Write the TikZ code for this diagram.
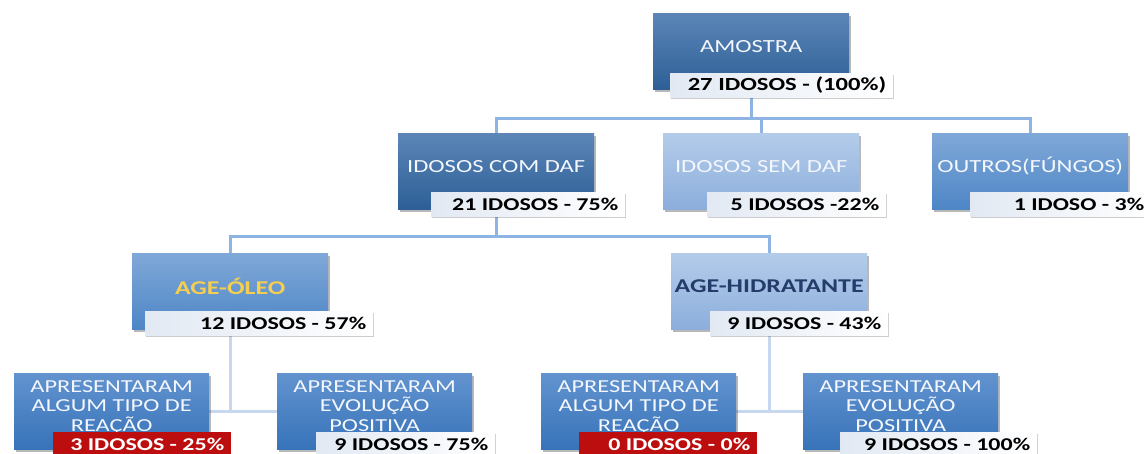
\documentclass[tikz,border=0pt]{standalone}
\usepackage{fontspec}
\setmainfont{Carlito}[FakeStretch=1.33]
\usetikzlibrary{shadows,backgrounds}
\definecolor{darkT}{RGB}{92,134,184}
\definecolor{darkB}{RGB}{45,95,150}
\definecolor{medT}{RGB}{128,168,216}
\definecolor{medB}{RGB}{78,134,198}
\definecolor{ligT}{RGB}{180,204,234}
\definecolor{ligB}{RGB}{140,174,220}
\definecolor{botT}{RGB}{98,147,207}
\definecolor{botB}{RGB}{55,115,185}
\definecolor{redL}{RGB}{188,14,14}
\definecolor{labB}{RGB}{226,233,243}
\definecolor{lineA}{RGB}{141,180,226}
\definecolor{lineB}{RGB}{198,215,238}
\definecolor{yel}{RGB}{246,206,80}
\definecolor{navy}{RGB}{35,60,105}
\definecolor{offw}{RGB}{244,247,252}
\begin{document}
\begin{tikzpicture}[x=1pt,y=-1pt,
  box/.style={rectangle, anchor=north west, minimum width=196pt, minimum height=76pt, inner sep=0pt,
    drop shadow={shadow xshift=2pt, shadow yshift=-3pt, opacity=0.35, fill=black!80}},
  dark/.style={top color=darkT, bottom color=darkB},
  med/.style={top color=medT, bottom color=medB},
  lig/.style={top color=ligT, bottom color=ligB},
  bot/.style={top color=botT, bottom color=botB},
  btext/.style={inner sep=0pt, text=offw, font=\fontsize{18.5}{21}\selectfont},
  ttext/.style={inner sep=0pt, font=\bfseries\fontsize{19.5}{22}\selectfont},
  mtext/.style={inner sep=0pt, anchor=north, align=center, text=offw, font=\fontsize{18.3}{19.5}\selectfont},
  labw/.style={rectangle, anchor=north west, minimum height=24pt, inner sep=0pt, left color=labB, right color=white,
    drop shadow={shadow xshift=1pt, shadow yshift=-2pt, opacity=0.25, fill=black!80}},
  labr/.style={rectangle, anchor=north west, minimum height=24pt, inner sep=0pt, fill=redL},
  ltext/.style={inner sep=0pt, anchor=east, text=black, font=\bfseries\fontsize{18}{20}\selectfont},
  rtext/.style={ltext, text=white},
  connA/.style={draw=lineA, line width=3pt},
  connB/.style={draw=lineB, line width=3pt}
]
\useasboundingbox (0,0) rectangle (1144,453);
\clip (0,0) rectangle (1144,453);

% boxes
\path
  (653,13) node[box,dark] (amostra) {}
  (398,133) node[box,dark] (comdaf) {}
  (663,133) node[box,lig] (semdaf) {}
  (932,133) node[box,med] (outros) {}
  (132,253) node[box,med] (oleo) {}
  (671,253) node[box,lig] (hidr) {}
  (14,373) node[box,bot,minimum width=195pt] (b1) {}
  (277,373) node[box,bot,minimum width=195pt] (b2) {}
  (541,373) node[box,bot,minimum width=195pt] (b3) {}
  (803,373) node[box,bot,minimum width=195pt] (b4) {};

% junctions
\path (amostra.south) ++(0,29) coordinate (j0);
\path (comdaf.south) ++(0,27) coordinate (j1);
\path (oleo.south |- b1.east) coordinate (j2);
\path (hidr.south |- b3.east) coordinate (j3);

% connectors (behind boxes)
\begin{scope}[on background layer]
\draw[connA] (amostra.south) -- (j0);
\draw[connA] (j0) -| (comdaf.north);
\draw[connA] (j0) -| (semdaf.north);
\draw[connA] (j0) -| (outros.north);
\draw[connA] (comdaf.south) -- (j1);
\draw[connA] (j1) -| (oleo.north);
\draw[connA] (j1) -| (hidr.north);
\draw[connB] (oleo.south) -- (j2);
\draw[connB] (j2) -- (b1.east);
\draw[connB] (j2) -- (b2.west);
\draw[connB] (hidr.south) -- (j3);
\draw[connB] (j3) -- (b3.east);
\draw[connB] (j3) -- (b4.west);
\end{scope}

% box texts
\node[btext] (amostra-t) at ([yshift=5pt]amostra.center) {AMOSTRA};
\node[btext] (comdaf-t) at ([yshift=5pt]comdaf.center) {IDOSOS COM DAF};
\node[btext] (semdaf-t) at ([yshift=5pt]semdaf.center) {IDOSOS SEM DAF};
\node[btext] (outros-t) at ([yshift=5pt]outros.center) {OUTROS(FÚNGOS)};
\node[ttext, text=yel] (oleo-t) at ([yshift=5pt]oleo.center) {AGE-ÓLEO};
\node[ttext, text=navy] (hidr-t) at ([yshift=5pt]hidr.center) {AGE-HIDRATANTE};
\node[mtext] (b1-t) at ([yshift=-7pt]b1.north) {APRESENTARAM\\ALGUM TIPO DE\\REAÇÃO};
\node[mtext] (b2-t) at ([yshift=-7pt]b2.north) {APRESENTARAM\\EVOLUÇÃO\\POSITIVA};
\node[mtext] (b3-t) at ([yshift=-7pt]b3.north) {APRESENTARAM\\ALGUM TIPO DE\\REAÇÃO};
\node[mtext] (b4-t) at ([yshift=-7pt]b4.north) {APRESENTARAM\\EVOLUÇÃO\\POSITIVA};

% labels
\node[labw, minimum width=223pt] (amostra-l) at (670,73) {};
\node[ltext, font=\bfseries\fontsize{18.5}{20}\selectfont] (amostra-n) at ([xshift=-7pt]amostra-l.east) {27 IDOSOS - (100\%)};
\node[labw, minimum width=194pt] (comdaf-l) at (431,192) {};
\node[ltext] (comdaf-n) at ([xshift=-7pt]comdaf-l.east) {21 IDOSOS - 75\%};
\node[labw, minimum width=179pt] (semdaf-l) at (707,192) {};
\node[ltext] (semdaf-n) at ([xshift=-7pt]semdaf-l.east) {5 IDOSOS -22\%};
\node[labw, minimum width=182pt] (outros-l) at (970,192) {};
\node[ltext] (outros-n) at ([xshift=-8pt]outros-l.east) {1 IDOSO - 3\%};
\node[labw, minimum width=228pt] (oleo-l) at (145,311) {};
\node[ltext] (oleo-n) at ([xshift=-7pt]oleo-l.east) {12 IDOSOS - 57\%};
\node[labw, minimum width=178pt] (hidr-l) at (710,311) {};
\node[ltext] (hidr-n) at ([xshift=-7pt]hidr-l.east) {9 IDOSOS - 43\%};
\node[labr, minimum width=178pt] (b1-l) at (53,432) {};
\node[rtext] (b1-n) at ([xshift=-7pt]b1-l.east) {3 IDOSOS - 25\%};
\node[labw, minimum width=179pt] (b2-l) at (316,432) {};
\node[ltext] (b2-n) at ([xshift=-7pt]b2-l.east) {9 IDOSOS - 75\%};
\node[labr, minimum width=178pt] (b3-l) at (579,432) {};
\node[rtext] (b3-n) at ([xshift=-7pt]b3-l.east) {0 IDOSOS - 0\%};
\node[labw, minimum width=197pt] (b4-l) at (840,432) {};
\node[ltext] (b4-n) at ([xshift=-7pt]b4-l.east) {9 IDOSOS - 100\%};
\end{tikzpicture}
\end{document}
